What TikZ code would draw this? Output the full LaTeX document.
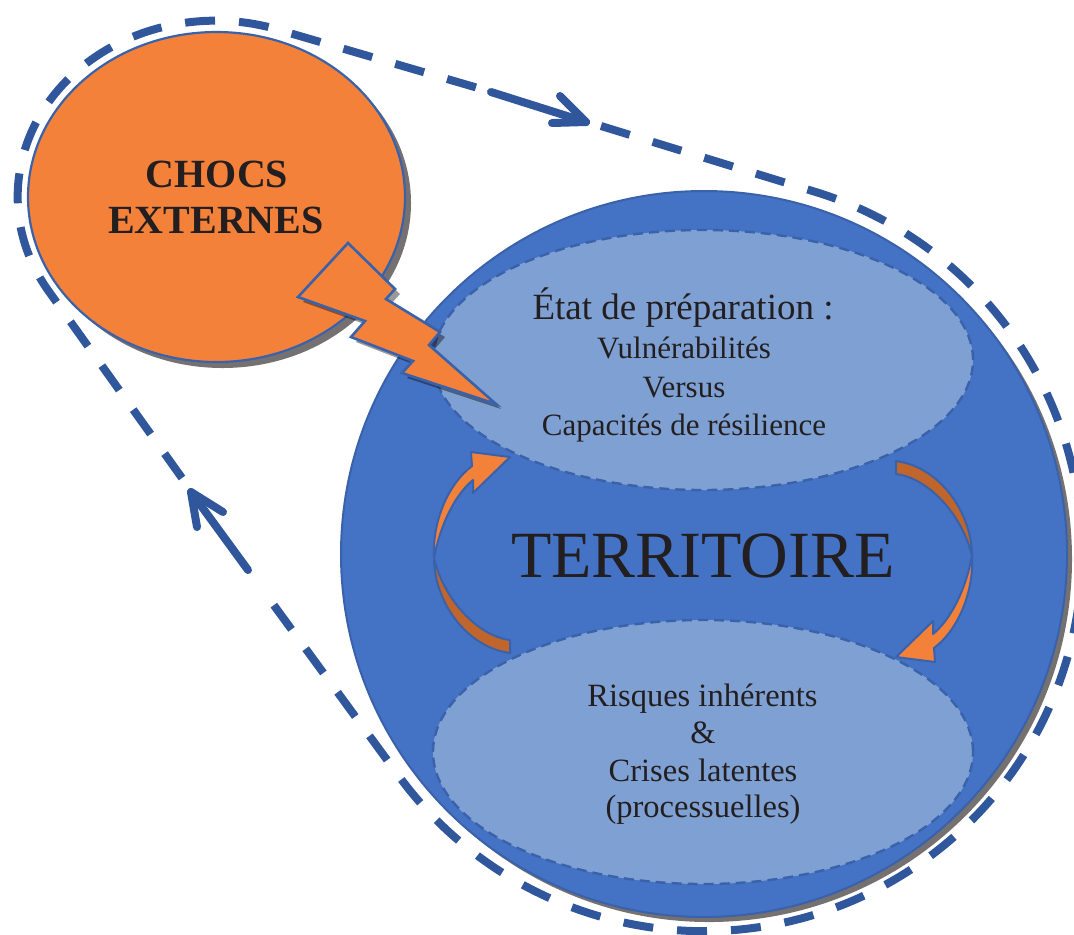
\documentclass[tikz,border=0pt]{standalone}
\usepackage{fontspec}
\setmainfont{Liberation Serif}
\usetikzlibrary{shapes.geometric}
\definecolor{orng}{HTML}{F4813A}
\definecolor{orngdark}{HTML}{C0652B}
\definecolor{bigblue}{HTML}{4472C4}
\definecolor{lightblue}{HTML}{7FA0D2}
\definecolor{edgeblue}{HTML}{3A62AA}
\definecolor{loopblue}{HTML}{30569C}
\definecolor{shadowgray}{HTML}{767171}
\definecolor{txt}{HTML}{231F20}
\begin{document}
\begin{tikzpicture}[x=0.5pt,y=0.5pt,
  txtnode/.style={anchor=base, inner sep=0pt, text=txt},
  bigcircle/.style={circle, fill=bigblue, draw=edgeblue, line width=1pt, minimum size=363pt, inner sep=0pt},
  shockellipse/.style={ellipse, fill=orng, draw=edgeblue, line width=1.1pt, minimum width=188.5pt, minimum height=165pt, inner sep=0pt},
  innerellipse/.style={ellipse, fill=lightblue, draw=edgeblue, line width=1.2pt, dash pattern=on 5pt off 3pt, minimum width=270pt, inner sep=0pt},
  arrowlight/.style={fill=orng, draw=edgeblue, line width=1pt, line join=round},
  arrowdark/.style={fill=orngdark, draw=edgeblue, line width=1pt, line join=round},
  boltshape/.style={fill=orng, draw=edgeblue, line width=1.3pt, line join=miter},
  loopdash/.style={draw=loopblue, line width=4pt, dash pattern=on 15pt off 12pt},
  loopsolid/.style={draw=loopblue, line width=4pt, line cap=round, line join=round},
  smalltext/.style={txtnode, font=\fontsize{15.5}{18}\selectfont},
  lowtext/.style={txtnode, font=\fontsize{16.25}{19}\selectfont}
]
\useasboundingbox (0,0) rectangle (1074,-934);

% shadows
\fill[shadowgray] (709,-559) circle[radius=363];
\fill[shadowgray] (222.5,-203) ellipse[x radius=188.5, y radius=165];

% main shapes
\node[bigcircle] (territoire) at (704,-554) {};
\node[shockellipse] (chocs) at (216.5,-197) {};
\node[innerellipse, minimum height=130pt] (prep) at (703,-360) {};
\node[innerellipse, minimum height=132pt] (risques) at (703,-752) {};

% curved arrows (left one, then the same rotated)
\begin{scope}
  \draw[arrowlight] (434,-558) .. controls (432,-522) and (448,-484) .. (472,-466)
     -- (471,-452) -- (510,-457) -- (473,-493) -- (473,-480)
     .. controls (456,-494) and (441,-522) .. (434,-558) -- cycle;
  \draw[arrowdark] (434,-558) .. controls (434,-600) and (465,-647) .. (510,-653)
     -- (510,-640) .. controls (478,-636) and (444,-600) .. (434,-558) -- cycle;
\end{scope}
\begin{scope}[rotate around={180:(703,-557)}]
  \draw[arrowlight] (434,-558) .. controls (432,-522) and (448,-484) .. (472,-466)
     -- (471,-452) -- (510,-457) -- (473,-493) -- (473,-480)
     .. controls (456,-494) and (441,-522) .. (434,-558) -- cycle;
  \draw[arrowdark] (434,-558) .. controls (434,-600) and (465,-647) .. (510,-653)
     -- (510,-640) .. controls (478,-636) and (444,-600) .. (434,-558) -- cycle;
\end{scope}

% lightning bolt
\fill[black, opacity=0.4] (353,-248) -- (400,-294) -- (391,-304) -- (445,-337) -- (434,-350) -- (501,-409) -- (407,-378) -- (418,-366) -- (356,-342) -- (370,-326) -- (303,-302) -- cycle;
\draw[boltshape] (348,-243) -- (395,-289) -- (386,-299) -- (440,-332) -- (429,-345) -- (496,-404) -- (402,-373) -- (413,-361) -- (351,-337) -- (365,-321) -- (298,-297) -- cycle;

% texts
\node[txtnode, font=\fontsize{20}{24}\selectfont\bfseries] (chocs1) at (217,-187) {CHOCS};
\node[txtnode, font=\fontsize{20}{24}\selectfont\bfseries] (chocs2) at (216,-233) {EXTERNES};
\node[txtnode, font=\fontsize{33}{40}\selectfont] (terr) at (703,-577) {TERRITOIRE};
\node[txtnode, font=\fontsize{18.5}{22}\selectfont] (prep1) at (683,-319) {État de préparation :};
\node[smalltext] (prep2) at (684,-358) {Vulnérabilités};
\node[smalltext] (prep3) at (684,-397) {Versus};
\node[smalltext] (prep4) at (684,-435) {Capacités de résilience};
\node[lowtext] (ris1) at (702.5,-706) {Risques inhérents};
\node[lowtext] (ris2) at (703,-743) {\&};
\node[lowtext] (ris3) at (703,-781.5) {Crises latentes};
\node[lowtext] (ris4) at (703,-817) {(processuelles)};

% dashed loop
\draw[loopdash] (601,-126) -- (819,-193) arc[start angle=72.3, end angle=-143.7, radius=378] -- (262,-589);
\draw[loopdash] (182,-478) -- (50,-293) arc[start angle=213.2, end angle=70.2, x radius=198, y radius=176] -- (478,-88);
\draw[loopsolid] (491,-92) -- (586,-122);
\draw[loopsolid] (560,-96) -- (586,-122) -- (552,-123);
\draw[loopsolid] (248,-570) -- (191,-492);
\draw[loopsolid] (223,-512) -- (191,-492) -- (197,-527);
\end{tikzpicture}
\end{document}
